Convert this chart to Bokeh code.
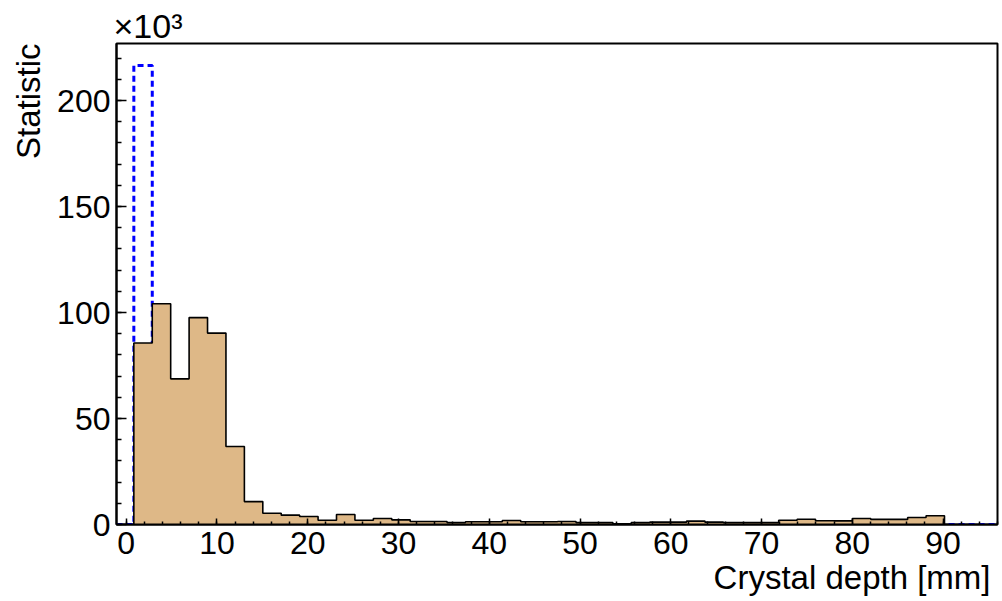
import numpy as np
from bokeh.plotting import figure
from bokeh.models import Range1d, FixedTicker, Title
from bokeh.embed import file_html
from bokeh.resources import INLINE

# ---- data (counts in units of 10^3) ----
bin_lo = 0.84          # first bin edge [mm]
bin_width = 2.03       # bin width [mm]
tan_counts_k = [85.6, 104.1, 68.7, 97.6, 90.3, 36.8, 10.8, 5.3, 4.4, 3.8,
                2.0, 4.7, 2.0, 2.8, 2.2, 1.4, 1.4, 0.9, 1.3, 1.3,
                1.9, 1.3, 1.3, 1.4, 0.9, 0.9, 0.3, 0.9, 1.1, 1.1,
                1.6, 1.1, 0.9, 0.9, 0.9, 2.0, 2.5, 1.8, 1.7, 2.8,
                2.4, 2.4, 3.3, 4.1]
blue_counts_k = [216.5, 0, 0, 0, 0, 0, 0, 0, 0, 0,
                 0, 0, 0, 0, 0, 0, 0, 0, 0, 0,
                 0, 0, 0, 0, 0, 0, 0, 0, 0, 0,
                 0, 0, 0, 0, 0, 0, 0, 0, 0, 0,
                 0, 0, 0, 0]
x_major = [0, 10, 20, 30, 40, 50, 60, 70, 80, 90]
y_major = [0, 50, 100, 150, 200]
x_label = "Crystal depth [mm]"
y_label = "Statistic"
exponent_label = "\u00d710\u00b3"

X_MIN, X_MAX = -1.07, 96.0
Y_MIN, Y_MAX = 0.0, 226.9
FONT = "Liberation Sans"

edges = bin_lo + bin_width * np.arange(len(tan_counts_k) + 1)


def step(edges, counts):
    xs, ys = [edges[0]], [0.0]
    for i, c in enumerate(counts):
        xs += [edges[i], edges[i + 1]]
        ys += [c, c]
    xs.append(edges[-1])
    ys.append(0.0)
    return xs, ys


p = figure(width=1000, height=598, output_backend="svg", toolbar_location=None,
           x_range=Range1d(X_MIN, X_MAX), y_range=Range1d(Y_MIN, Y_MAX),
           min_border_left=116, min_border_right=3, min_border_top=43,
           min_border_bottom=74)
p.grid.visible = False
p.background_fill_color = "white"
p.border_fill_color = "white"
p.outline_line_color = "black"
p.outline_line_width = 2

# blue dashed histogram (drawn first, extends along zero over the full axis)
bx, by = step(edges, blue_counts_k)
bx = [X_MIN] + bx + [X_MAX]
by = [0.0] + by + [0.0]
p.line(bx, by, line_color="#0000ff", line_width=3, line_dash="6 4")

# filled histogram on top
sx, sy = step(edges, tan_counts_k)
p.patch(sx, sy, fill_color="#deb887", line_color=None)
p.line(sx, sy, line_color="black", line_width=1.6)

# axes styling (ROOT-like inward ticks)
for ax in (p.xaxis[0], p.yaxis[0]):
    ax.axis_line_color = "black"
    ax.axis_line_width = 2
    ax.major_tick_line_color = "black"
    ax.minor_tick_line_color = "black"
    ax.major_tick_line_width = 1.5
    ax.minor_tick_line_width = 1.5
    ax.major_tick_out = 0
    ax.minor_tick_out = 0
    ax.major_label_text_font = FONT
    ax.major_label_text_font_size = "32px"
    ax.major_label_text_color = "black"

p.xaxis.ticker = FixedTicker(ticks=x_major, minor_ticks=list(range(0, 97, 2)))
p.yaxis.ticker = FixedTicker(ticks=y_major, minor_ticks=list(range(0, 227, 10)))
p.xaxis.major_tick_in = 6
p.xaxis.minor_tick_in = 3
p.yaxis.major_tick_in = 10
p.yaxis.minor_tick_in = 5
p.xaxis.major_label_standoff = 7
p.yaxis.major_label_standoff = 6

# axis titles, right/top aligned as in ROOT
p.add_layout(Title(text=x_label, align="right", offset=7, standoff=0,
                   text_font=FONT, text_font_size="33px",
                   text_font_style="normal", text_color="black"), "below")
p.add_layout(Title(text=y_label, align="right", offset=0, standoff=12,
                   vertical_align="top",
                   text_font=FONT, text_font_size="33px",
                   text_font_style="normal", text_color="black"), "left")

t = Title(text=exponent_label, align="left", offset=-3, standoff=0,
          text_font=FONT, text_font_size="34px", text_font_style="normal",
          text_color="black")
try:
    t.standoff = -3
except Exception:
    pass
p.add_layout(t, "above")

open("out.html", "w").write(file_html(p, INLINE))
